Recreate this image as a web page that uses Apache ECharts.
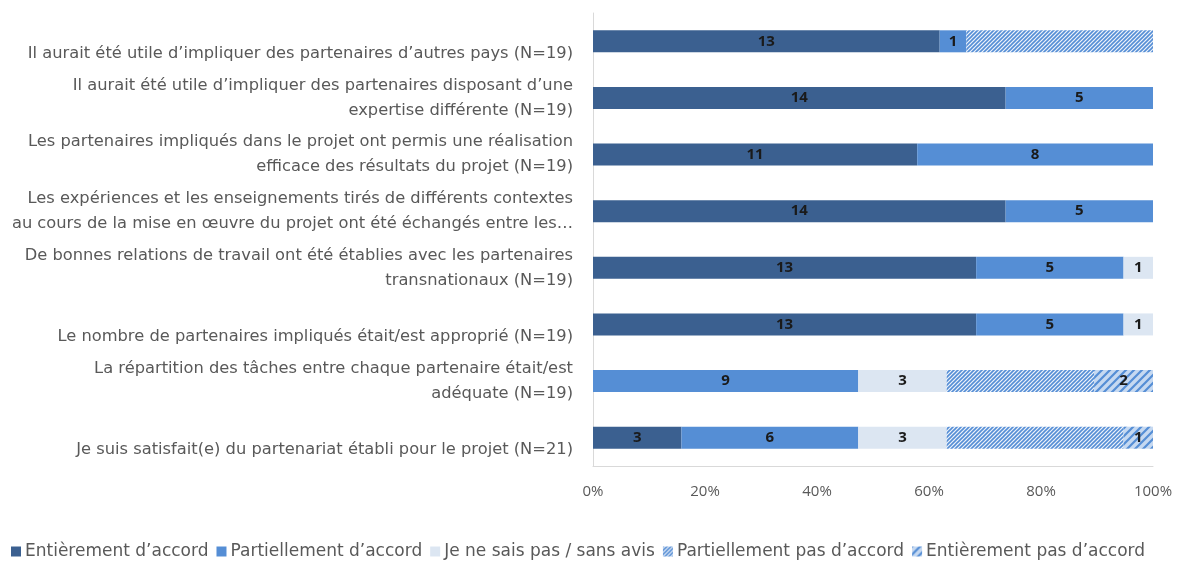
<!DOCTYPE html>
<html>
<head>
<meta charset="utf-8">
<script src="https://cdn.jsdelivr.net/npm/echarts@6/dist/echarts.min.js"></script>
<style>
  html, body { margin: 0; padding: 0; background: #fff; }
  #chart { width: 1178px; height: 561px; }
</style>
</head>
<body>
<div id="chart"></div>
<script>
// categories, top to bottom
var categories = [
    "Il aurait été utile d’impliquer des partenaires d’autres pays (N=19)",
    "Il aurait été utile d’impliquer des partenaires disposant d’une\nexpertise différente (N=19)",
    "Les partenaires impliqués dans le projet ont permis une réalisation\nefficace des résultats du projet (N=19)",
    "Les expériences et les enseignements tirés de différents contextes\nau cours de la mise en œuvre du projet ont été échangés entre les…",
    "De bonnes relations de travail ont été établies avec les partenaires\ntransnationaux (N=19)",
    "Le nombre de partenaires impliqués était/est approprié (N=19)",
    "La répartition des tâches entre chaque partenaire était/est\nadéquate (N=19)",
    "Je suis satisfait(e) du partenariat établi pour le projet (N=21)"
];

var seriesNames = [
    "Entièrement d’accord",
    "Partiellement d’accord",
    "Je ne sais pas / sans avis",
    "Partiellement pas d’accord",
    "Entièrement pas d’accord"
];

// counts per answer, same order as categories
var entierementAccord    = [13, 14, 11, 14, 13, 13, 0, 3];
var partiellementAccord  = [1, 5, 8, 5, 5, 5, 9, 6];
var sansAvis             = [0, 0, 0, 0, 1, 1, 3, 3];
var partiellementPas     = [7, 0, 0, 0, 0, 0, 5, 6];
var entierementPas       = [0, 0, 0, 0, 0, 0, 2, 1];

var xTicks = [0, 20, 40, 60, 80, 100];

// diagonal hatch patterns
function hatch(size, bg, fg, lw) {
    var c = document.createElement('canvas');
    c.width = size; c.height = size;
    var ctx = c.getContext('2d');
    ctx.fillStyle = bg;
    ctx.fillRect(0, 0, size, size);
    ctx.strokeStyle = fg;
    ctx.lineWidth = lw;
    ctx.beginPath();
    ctx.moveTo(-1, size + 1); ctx.lineTo(size + 1, -1);
    ctx.moveTo(-1, 1); ctx.lineTo(1, -1);
    ctx.moveTo(size - 1, size + 1); ctx.lineTo(size + 1, size - 1);
    ctx.stroke();
    return { image: c, repeat: 'repeat' };
}

var colors = [
    '#3B6090',
    '#558ED5',
    '#DCE6F2',
    hatch(4, '#EEF3FA', '#558ED5', 1.6),
    hatch(8, '#C6D9F1', '#558ED5', 2.2)
];

var allCounts = [entierementAccord, partiellementAccord, sansAvis, partiellementPas, entierementPas];
var totals = categories.map(function (c, i) {
    return allCounts.reduce(function (s, arr) { return s + arr[i]; }, 0);
});

var myChart = echarts.init(document.getElementById('chart'));

var series = allCounts.map(function (arr, k) {
    return {
        name: seriesNames[k],
        type: 'bar',
        stack: 'total',
        barWidth: 22,
        itemStyle: { color: colors[k] },
        label: {
            show: k !== 3,
            position: 'inside',
            color: '#1a1a1a',
            fontSize: 15,
            fontWeight: 'bold',
            fontFamily: 'Open Sans',
            formatter: function (p) {
                var v = arr[p.dataIndex];
                return v > 0 ? String(v) : '';
            }
        },
        emphasis: { disabled: true },
        data: arr.map(function (v, i) { return v / totals[i] * 100; })
    };
});

var option = {
    animation: false,
    textStyle: { fontFamily: 'DejaVu Sans' },
    grid: { left: 593, right: 25, top: 13, bottom: 95 },
    legend: {
        data: seriesNames,
        left: 6,
        top: 538,
        itemWidth: 10,
        itemHeight: 10,
        itemGap: 8,
        icon: 'rect',
        textStyle: { color: '#595959', fontSize: 17, fontFamily: 'DejaVu Sans', padding: [0, 0, 0, -1] }
    },
    xAxis: {
        type: 'value',
        min: xTicks[0],
        max: xTicks[xTicks.length - 1],
        interval: 20,
        axisLine: { show: true, lineStyle: { color: '#D9D9D9' } },
        axisTick: { show: false },
        splitLine: { show: false },
        axisLabel: {
            color: '#595959',
            fontSize: 15,
            fontFamily: 'Open Sans',
            margin: 18,
            formatter: '{value}%'
        }
    },
    yAxis: {
        type: 'category',
        inverse: true,
        data: categories,
        axisLine: { show: true, lineStyle: { color: '#D9D9D9' } },
        axisTick: { show: false },
        axisLabel: {
            color: '#595959',
            fontSize: 16.3,
            fontFamily: 'DejaVu Sans',
            margin: 20,
            lineHeight: 25,
            align: 'right',
            formatter: function (v) {
                // single-line labels sit lower, as in the original
                return v.indexOf('\n') >= 0 ? v : '\n' + v;
            }
        }
    },
    series: series
};

myChart.setOption(option);
</script>
</body>
</html>
